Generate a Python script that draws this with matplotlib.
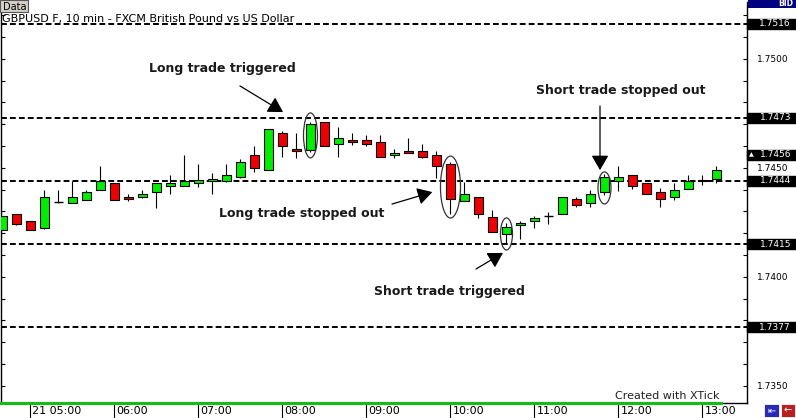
import numpy as np
import pandas as pd
import matplotlib
matplotlib.use('Agg')
import matplotlib.pyplot as plt
from matplotlib.patches import Rectangle, Ellipse
from matplotlib.ticker import MultipleLocator, FuncFormatter
import matplotlib.transforms as mtransforms

W, H = 796, 418

# GBPUSD 10 min bars, day 21 from 04:40
opens = [1.74216, 1.74287, 1.74256, 1.74226, 1.74345, 1.74338, 1.74354, 1.74397, 1.74429, 1.74365,
         1.74365, 1.74388, 1.74416, 1.74416, 1.74429, 1.74440, 1.74438, 1.74458, 1.74558, 1.74489,
         1.74659, 1.74585, 1.74583, 1.74709, 1.74608, 1.74627, 1.74627, 1.74617, 1.74558, 1.74576,
         1.74576, 1.74558, 1.74516, 1.74347, 1.74365, 1.74276, 1.74195, 1.74237, 1.74255, 1.74278,
         1.74287, 1.74356, 1.74338, 1.74389, 1.74440, 1.74466, 1.74431, 1.74388, 1.74365, 1.74404,
         1.74446, 1.74448]
highs = [1.74280, 1.74287, 1.74256, 1.74399, 1.74399, 1.74441, 1.74397, 1.74509, 1.74429, 1.74380,
         1.74399, 1.74429, 1.74467, 1.74559, 1.74518, 1.74477, 1.74518, 1.74541, 1.74600, 1.74677,
         1.74669, 1.74659, 1.74709, 1.74709, 1.74686, 1.74659, 1.74651, 1.74651, 1.74587, 1.74636,
         1.74610, 1.74576, 1.74526, 1.74434, 1.74365, 1.74307, 1.74246, 1.74256, 1.74279, 1.74296,
         1.74365, 1.74365, 1.74399, 1.74472, 1.74507, 1.74466, 1.74431, 1.74406, 1.74431, 1.74467,
         1.74467, 1.74510]
lows = [1.74213, 1.74239, 1.74216, 1.74221, 1.74340, 1.74338, 1.74351, 1.74397, 1.74351, 1.74349,
        1.74360, 1.74317, 1.74382, 1.74416, 1.74411, 1.74382, 1.74434, 1.74452, 1.74480, 1.74489,
        1.74551, 1.74544, 1.74574, 1.74599, 1.74551, 1.74604, 1.74600, 1.74549, 1.74544, 1.74567,
        1.74544, 1.74452, 1.74288, 1.74347, 1.74272, 1.74206, 1.74154, 1.74172, 1.74223, 1.74241,
        1.74287, 1.74319, 1.74319, 1.74376, 1.74393, 1.74402, 1.74379, 1.74319, 1.74351, 1.74404,
        1.74422, 1.74432]
closes = [1.74278, 1.74244, 1.74216, 1.74365, 1.74345, 1.74365, 1.74388, 1.74440, 1.74354, 1.74356,
          1.74379, 1.74429, 1.74429, 1.74438, 1.74446, 1.74448, 1.74466, 1.74526, 1.74498, 1.74677,
          1.74600, 1.74576, 1.74700, 1.74599, 1.74636, 1.74617, 1.74608, 1.74549, 1.74567, 1.74567,
          1.74549, 1.74507, 1.74356, 1.74379, 1.74287, 1.74206, 1.74227, 1.74247, 1.74269, 1.74278,
          1.74365, 1.74328, 1.74379, 1.74457, 1.74457, 1.74416, 1.74379, 1.74356, 1.74397, 1.74440,
          1.74440, 1.74489]
times = pd.date_range('2008-01-21 04:40', periods=len(opens), freq='10min')

levels = [1.7516, 1.7473, 1.7444, 1.7415, 1.7377]
bid = 1.7456

fig = plt.figure(figsize=(W / 100, H / 100), dpi=100)
fig.patch.set_facecolor('white')

def fx(x):
    return x / W

def fy(y):
    return 1 - y / H

ax = fig.add_axes([fx(1), fy(403), fx(746), (403 - 2) / H])
ax.set_xlim(-0.107, 53.18)
ax.set_ylim(1.734215, 1.752609)
ax.set_facecolor('white')

# levels
for lv in levels:
    ax.axhline(lv, color='black', lw=1.4, dashes=(3, 1.6), zorder=1)

# candles
w = 0.64
for i, (o, h, l, c) in enumerate(zip(opens, highs, lows, closes)):
    ax.vlines(i, l, h, color='black', lw=0.8, zorder=2)
    if abs(c - o) < 0.00002:
        ax.hlines(o, i - w / 2, i + w / 2, color='black', lw=1.0, zorder=3)
    else:
        col = '#00ee00' if c > o else '#ee0000'
        ax.add_patch(Rectangle((i - w / 2, min(o, c)), w, abs(c - o), facecolor=col,
                               edgecolor='black', lw=0.8, zorder=3))

# axes look
for s in ['top']:
    ax.spines[s].set_visible(False)
for s in ['left', 'right', 'bottom']:
    ax.spines[s].set_linewidth(1.0)

ax.yaxis.set_major_locator(MultipleLocator(0.001))
ax.yaxis.set_major_formatter(FuncFormatter(
    lambda v, p: '%.4f' % v if round(v * 10000) % 50 == 0 else ''))
ax.tick_params(axis='y', direction='in', length=3, width=0.8, left=True, right=True,
               labelleft=False, labelright=True, labelsize=6.5, pad=7)

hour_idx = [i for i, t in enumerate(times) if t.minute == 0]
ax.set_xticks(hour_idx)
ax.tick_params(axis='x', direction='out', length=10.5, width=0.8, labelbottom=False)
lab_tr = mtransforms.offset_copy(ax.get_xaxis_transform(), fig=fig, x=2, y=-8, units='dots')
for k, i in enumerate(hour_idx):
    lab = times[i].strftime('%d %H:%M') if k == 0 else times[i].strftime('%H:%M')
    ax.text(i, 0, lab, transform=lab_tr, ha='left', va='center', fontsize=8, color='black')

# level boxes on the right
ytr = mtransforms.blended_transform_factory(ax.transAxes, ax.transData)
bw = (796 - 747) / 746
bh = 10 / 21800
for lv in levels:
    ax.add_patch(Rectangle((1.0, lv - bh / 2), bw, bh, transform=ytr, color='black',
                           clip_on=False, zorder=5))
    ax.text((791 - 1) / 746, lv, '%.4f' % lv, transform=ytr, ha='right', va='center',
            fontsize=6.5, color='white', zorder=6)
ax.add_patch(Rectangle((1.0, bid - bh / 2), bw, bh, transform=ytr, color='black',
                       clip_on=False, zorder=5))
ax.text((791 - 1) / 746, bid, '%.4f' % bid, transform=ytr, ha='right', va='center',
        fontsize=6.5, color='white', zorder=6)
ax.text((751 - 1) / 746, bid, '\u25b2', transform=ytr, ha='center', va='center',
        fontsize=4.5, color='white', zorder=6)

# ellipses around trade candles
for cx, cy, ew, eh in [(22, 1.74649, 1.0, 0.00206), (32, 1.74412, 1.43, 0.00284),
                       (36, 1.74197, 0.86, 0.00147), (43, 1.74408, 0.93, 0.00147)]:
    ax.add_patch(Ellipse((cx, cy), ew, eh, fill=False, edgecolor='#333333', lw=0.9, zorder=4))

# notes
notes = [
    ('Long trade triggered', (15.68, 1.74954), (16.96, 1.74876), (20.04, 1.74756)),
    ('Long trade stopped out', (21.39, 1.74293), (27.82, 1.74334), (30.70, 1.74389)),
    ('Short trade triggered', (31.89, 1.73935), (33.82, 1.74036), (35.75, 1.74110)),
    ('Short trade stopped out', (44.18, 1.74853), (42.68, 1.74784), (42.68, 1.74490)),
]
for txt, tpos, tail, tip in notes:
    ax.text(tpos[0], tpos[1], txt, ha='center', va='center', fontsize=9,
            fontweight='bold', color='#1a1a1a', zorder=6)
    ax.annotate('', xy=tip, xytext=tail,
                arrowprops=dict(arrowstyle='-|>,head_length=0.6,head_width=0.35',
                                color='black', lw=0.9, mutation_scale=15,
                                shrinkA=0, shrinkB=0), zorder=6)

# title and chart chrome
fig.text(fx(2), fy(19), 'GBPUSD F, 10 min - FXCM British Pound vs US Dollar',
         fontsize=8, ha='left', va='center', color='black')
fig.add_artist(Rectangle((fx(0), fy(12)), fx(28), 12 / H, facecolor='#d4d0c8',
                         edgecolor='#555555', lw=0.8, transform=fig.transFigure))
fig.text(fx(2.5), fy(6.5), 'Data', fontsize=7, ha='left', va='center', color='black')

fig.add_artist(Rectangle((fx(748), fy(7.5)), fx(48), 7.5 / H, facecolor='#000080',
                         edgecolor='none', transform=fig.transFigure))
fig.text(fx(793), fy(4), 'BID', fontsize=5.5, fontweight='bold', ha='right', va='center',
         color='white')

fig.add_artist(Rectangle((fx(0), fy(404.5)), fx(723), 3 / H, facecolor='#10c010',
                         edgecolor='none', transform=fig.transFigure, zorder=10))
fig.text(fx(615), fy(396), 'Created with XTick', fontsize=8, ha='left', va='center',
         color='#222222')

fig.add_artist(Rectangle((fx(764), fy(417)), fx(15), 13 / H, facecolor='#2a2ab8',
                         edgecolor='white', lw=0.6, transform=fig.transFigure))
fig.text(fx(771.5), fy(410.5), '\u21e4', fontsize=7, ha='center', va='center', color='white')
fig.add_artist(Rectangle((fx(781), fy(417)), fx(14), 13 / H, facecolor='#b82020',
                         edgecolor='white', lw=0.6, transform=fig.transFigure))
fig.text(fx(788), fy(410.5), '\u2190', fontsize=7, ha='center', va='center', color='white')

fig.savefig('out.png', dpi=100)
